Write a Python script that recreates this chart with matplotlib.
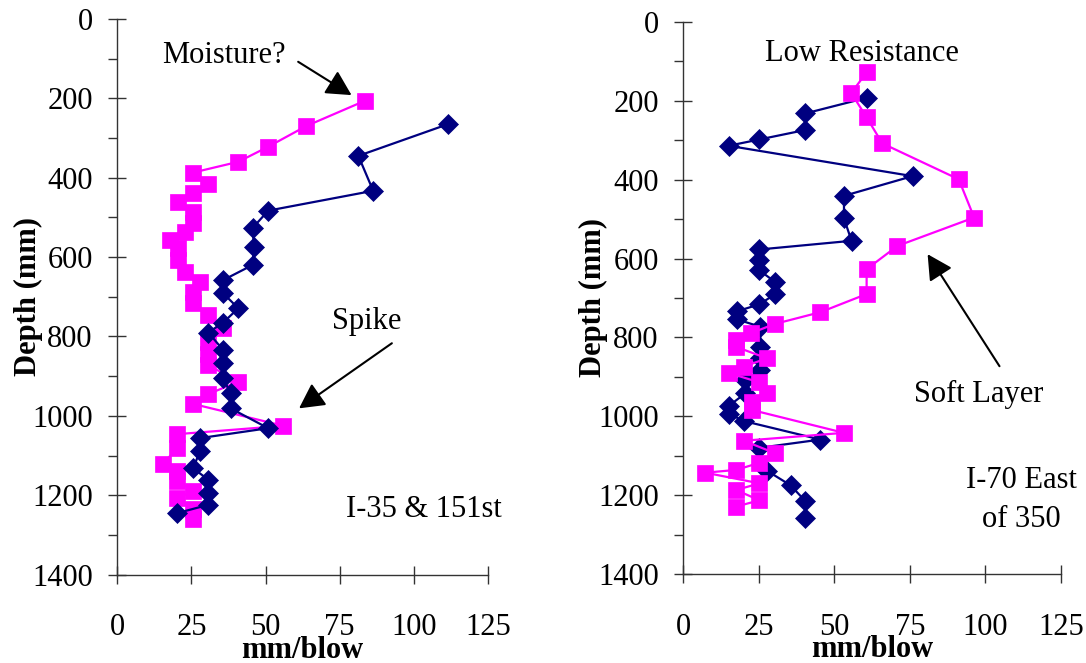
import matplotlib
matplotlib.use("Agg")
import matplotlib.pyplot as plt
from matplotlib.ticker import MultipleLocator

plt.rcParams['font.family'] = ['Liberation Serif', 'DejaVu Serif']

# ---- data: left panel (I-35 & 151st) ----
depth_l_blue = [265, 345, 433, 483, 527, 574, 620, 658, 691, 729, 765, 790, 834, 868, 905,
                943, 981, 1031, 1056, 1088, 1132, 1161, 1193, 1224, 1245]
val_l_blue = [111.6, 81.3, 86.3, 50.9, 45.6, 46.1, 45.6, 35.7, 35.7, 40.8, 35.7, 30.7, 35.7,
              35.7, 35.7, 38.2, 38.2, 50.9, 27.9, 27.9, 25.6, 30.7, 30.7, 30.7, 20.2]

depth_l_pink = [206, 270, 322, 360, 387, 416, 439, 460, 486, 515, 536, 557, 578, 607, 637, 662,
                687, 716, 746, 779, 815, 845, 872, 914, 945, 970, 1025, 1046, 1080, 1122, 1140,
                1164, 1188, 1208, 1235, 1260]
val_l_pink = [83.6, 63.7, 50.9, 40.8, 25.6, 30.7, 25.6, 20.6, 25.6, 25.6, 22.9, 17.8, 20.6, 20.6,
              22.9, 27.9, 25.6, 25.6, 30.7, 35.7, 30.7, 30.7, 30.7, 40.8, 30.7, 25.6, 56.0, 20.3,
              20.3, 15.3, 20.3, 20.3, 25.6, 20.3, 25.6, 25.6]

# ---- data: right panel (I-70 East of 350) ----
depth_r_blue = [192, 232, 274, 298, 314, 391, 441, 498, 555, 577, 604, 630, 660, 690, 716, 734,
                754, 773, 824, 853, 883, 908, 942, 974, 993, 1012, 1059, 1080, 1138, 1175, 1215, 1257]
val_r_blue = [60.9, 40.4, 40.4, 25.2, 15.0, 75.9, 53.2, 53.2, 55.7, 25.2, 25.2, 25.2, 30.5, 30.5,
              25.2, 17.7, 17.7, 25.5, 25.5, 25.5, 25.5, 20.5, 20.5, 15.0, 15.0, 20.0, 45.4, 25.2,
              27.7, 35.5, 40.4, 40.4]

depth_r_pink = [126, 180, 242, 308, 399, 496, 568, 627, 690, 736, 766, 789, 807, 824, 853, 874,
                890, 914, 942, 965, 984, 1042, 1062, 1093, 1118, 1136, 1143, 1170, 1187, 1213, 1229]
val_r_pink = [60.9, 55.6, 60.7, 65.9, 91.2, 96.3, 70.9, 60.7, 60.7, 45.4, 30.2, 22.5, 17.5, 17.5,
              27.7, 20.0, 15.0, 25.2, 27.7, 22.7, 22.7, 53.2, 20.0, 30.2, 25.2, 17.5, 7.3, 25.2,
              17.5, 25.2, 17.5]

x_ticks = [0, 25, 50, 75, 100, 125]
y_ticks = [0, 200, 400, 600, 800, 1000, 1200, 1400]

NAVY = '#000080'
PINK = '#FF00FF'
AXC = '#333333'
FS = 22

fig = plt.figure(figsize=(10.86, 6.63), dpi=100)
ax1 = fig.add_axes([0.1080, 0.1332, 0.3413, 0.8383])
ax2 = fig.add_axes([0.6292, 0.1342, 0.3476, 0.8327])


def style(ax):
    ax.set_xlim(0, 125)
    ax.set_ylim(1400, 0)
    ax.set_xticks(x_ticks)
    ax.set_yticks(y_ticks)
    ax.yaxis.set_minor_locator(MultipleLocator(100))
    for s in ['top', 'right']:
        ax.spines[s].set_visible(False)
    for s in ['left', 'bottom']:
        ax.spines[s].set_color(AXC)
        ax.spines[s].set_linewidth(1.0)
    ax.tick_params(axis='both', which='major', direction='inout', length=13.5, width=1.0,
                   color=AXC, labelsize=FS)
    ax.tick_params(axis='x', which='major', pad=21)
    ax.tick_params(axis='y', which='major', pad=11)
    ax.tick_params(axis='y', which='minor', direction='out', length=6.5, width=1.0, color=AXC)
    ax.set_xlabel('mm/blow', fontsize=FS, fontweight='bold', va='top')
    ax.xaxis.set_label_coords(0.5, -0.110)
    ax.set_ylabel('Depth (mm)', fontsize=FS, fontweight='bold')


def series(ax, x, y, color, marker, ms, z):
    ax.plot(x, y, color=color, lw=1.6, marker=marker, ms=ms, mfc=color, mec=color,
            mew=0.5, zorder=z, clip_on=False)


style(ax1)
style(ax2)
ax1.yaxis.set_label_coords(-0.200, 0.5)
ax2.yaxis.set_label_coords(-0.200, 0.5)

series(ax1, val_l_pink, depth_l_pink, PINK, 's', 11.5, 3)
series(ax1, val_l_blue, depth_l_blue, NAVY, 'D', 10.5, 4)
series(ax2, val_r_blue, depth_r_blue, NAVY, 'D', 10.5, 3)
series(ax2, val_r_pink, depth_r_pink, PINK, 's', 11.5, 4)

arrow = dict(arrowstyle='-|>,head_length=0.85,head_width=0.45', color='black', lw=1.5,
             mutation_scale=18, shrinkA=0, shrinkB=0)

# left annotations
ax1.text(15, 112, 'Moisture?', fontsize=FS, ha='left', va='baseline')
ax1.annotate('', xy=(79, 192), xytext=(61, 108), arrowprops=arrow)
ax1.text(72.5, 782, 'Spike', fontsize=FS, ha='left', va='baseline')
ax1.annotate('', xy=(61.3, 981), xytext=(92.6, 817), arrowprops=arrow)
ax1.text(77, 1255, 'I-35 & 151st', fontsize=FS, ha='left', va='baseline')

# right annotations
ax2.text(27.2, 100, 'Low Resistance', fontsize=FS, ha='left', va='baseline')
ax2.text(76.4, 963, 'Soft Layer', fontsize=FS, ha='left', va='baseline')
ax2.annotate('', xy=(80.9, 589), xytext=(104.7, 873), arrowprops=arrow)
ax2.text(111.9, 1182, 'I-70 East', fontsize=FS, ha='center', va='baseline')
ax2.text(111.9, 1280, 'of 350', fontsize=FS, ha='center', va='baseline')

fig.savefig('out.png', dpi=100)
